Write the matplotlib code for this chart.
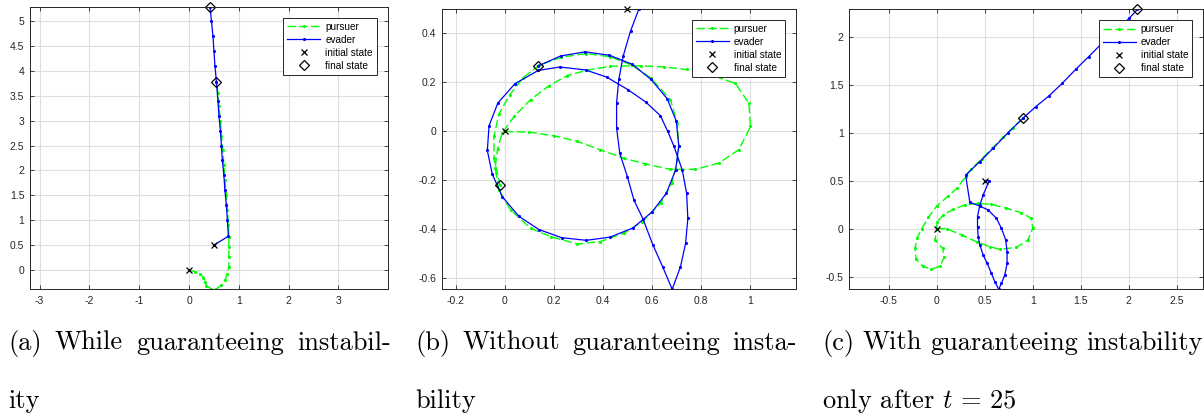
import matplotlib
matplotlib.use('Agg')
import matplotlib.pyplot as plt
from matplotlib.ticker import MultipleLocator, FuncFormatter

plt.rcParams['axes.unicode_minus'] = False
plt.rcParams['mathtext.fontset'] = 'cm'

# trajectories, one pair of lists per agent and scenario
PURSUER_A_X = [0.00, 0.12, 0.22, 0.29, 0.32, 0.35, 0.45, 0.55, 0.65, 0.72, 0.77, 0.80, 0.80,
               0.80, 0.80, 0.79, 0.77, 0.75, 0.72, 0.70, 0.68, 0.65, 0.63, 0.60, 0.58, 0.55]
PURSUER_A_Y = [0.00, -0.03, -0.07, -0.15, -0.23, -0.31, -0.38, -0.38, -0.30, -0.20, -0.07, 0.07, 0.27,
               0.47, 0.67, 0.90, 1.20, 1.50, 1.80, 2.10, 2.40, 2.70, 3.00, 3.30, 3.55, 3.78]
EVADER_A_X = [0.50, 0.79, 0.77, 0.75, 0.72, 0.70, 0.67, 0.65, 0.63, 0.60, 0.58, 0.55,
              0.52, 0.50, 0.48, 0.45, 0.42]
EVADER_A_Y = [0.50, 0.68, 1.00, 1.30, 1.60, 1.90, 2.20, 2.50, 2.80, 3.10, 3.40, 3.78,
              4.10, 4.40, 4.70, 5.00, 5.28]

PURSUER_B_X = [0.000, 0.098, 0.200, 0.295, 0.390, 0.486, 0.574, 0.676, 0.778, 0.873, 0.955, 1.003,
               0.996, 0.941, 0.846, 0.744, 0.649, 0.554, 0.431, 0.336, 0.255, 0.180, 0.105, 0.037,
               -0.011, -0.030, -0.040, -0.025, 0.023, 0.105, 0.187, 0.295, 0.390, 0.486, 0.561,
               0.636, 0.683, 0.704, 0.710, 0.704, 0.676, 0.595, 0.520, 0.430, 0.330, 0.230, 0.140,
               0.075, 0.020, -0.025, -0.045, -0.045, -0.020]
PURSUER_B_Y = [0.000, -0.003, -0.018, -0.041, -0.075, -0.110, -0.133, -0.155, -0.155, -0.130, -0.075, 0.020,
               0.116, 0.196, 0.229, 0.253, 0.263, 0.268, 0.266, 0.250, 0.228, 0.187, 0.130, 0.061,
               -0.007, -0.070, -0.150, -0.240, -0.321, -0.396, -0.430, -0.460, -0.450, -0.416, -0.369,
               -0.293, -0.211, -0.116, -0.061, 0.034, 0.130, 0.219, 0.270, 0.305, 0.318, 0.303, 0.270,
               0.220, 0.150, 0.070, -0.020, -0.110, -0.220]
EVADER_B_X = [0.500, 0.547, 0.513, 0.483, 0.465, 0.456, 0.456, 0.469, 0.500, 0.527, 0.563, 0.604,
              0.645, 0.683, 0.717, 0.738, 0.747, 0.742, 0.724, 0.690, 0.665, 0.635, 0.575, 0.503,
              0.415, 0.329, 0.224, 0.136, 0.041, -0.029, -0.065, -0.072, -0.052, -0.011, 0.057,
              0.139, 0.231, 0.332, 0.429, 0.522, 0.601, 0.659, 0.697, 0.710, 0.700, 0.663, 0.597,
              0.520, 0.427, 0.327, 0.227, 0.135]
EVADER_B_Y = [0.500, 0.500, 0.410, 0.308, 0.212, 0.116, 0.014, -0.089, -0.185, -0.281, -0.356, -0.463,
              -0.555, -0.645, -0.553, -0.457, -0.355, -0.252, -0.157, -0.060, 0.000, 0.064, 0.120, 0.170,
              0.222, 0.251, 0.263, 0.249, 0.195, 0.116, 0.023, -0.078, -0.174, -0.267, -0.347,
              -0.401, -0.434, -0.445, -0.432, -0.395, -0.329, -0.253, -0.158, -0.059, 0.041, 0.133, 0.212,
              0.274, 0.311, 0.325, 0.308, 0.267]

PURSUER_C_X = [0.000, 0.104, 0.259, 0.415, 0.553, 0.657, 0.830, 0.950, 1.000, 0.985, 0.882, 0.726,
               0.570, 0.432, 0.294, 0.172, 0.069, 0.006, -0.017, 0.062, 0.079, 0.035, -0.059,
               -0.145, -0.214, -0.225, -0.207, -0.155, -0.087, 0.000, 0.120, 0.210, 0.300,
               0.360, 0.470, 0.580, 0.690, 0.790, 0.898]
PURSUER_C_Y = [0.000, 0.000, -0.066, -0.135, -0.187, -0.215, -0.194, -0.118, 0.004, 0.108, 0.167, 0.212,
               0.254, 0.264, 0.247, 0.202, 0.143, 0.073, -0.118, -0.205, -0.299, -0.389, -0.424,
               -0.389, -0.319, -0.205, -0.100, 0.000, 0.120, 0.235, 0.340, 0.420, 0.540,
               0.620, 0.730, 0.840, 0.950, 1.050, 1.149]
EVADER_C_X = [0.500, 0.546, 0.484, 0.449, 0.425, 0.425, 0.432, 0.449, 0.484, 0.525, 0.570, 0.605,
              0.646, 0.674, 0.709, 0.733, 0.733, 0.719, 0.674, 0.622, 0.535, 0.449, 0.345, 0.301,
              0.449, 0.587, 0.743, 0.898, 1.030, 1.168, 1.307, 1.452, 1.583, 1.711, 1.860, 2.005, 2.091]
EVADER_C_Y = [0.500, 0.500, 0.351, 0.247, 0.125, 0.020, -0.083, -0.170, -0.274, -0.360, -0.465, -0.552,
              -0.631, -0.569, -0.482, -0.361, -0.240, -0.118, 0.004, 0.108, 0.195, 0.236, 0.275, 0.559,
              0.698, 0.837, 1.000, 1.150, 1.270, 1.382, 1.514, 1.664, 1.792, 1.921, 2.052, 2.192, 2.285]

TICK_STEPS = [(1.0, 0.5), (0.2, 0.2), (0.5, 0.5)]
CAPTIONS = [
    ("(a) While guaranteeing instabil-", "ity"),
    ("(b) Without guaranteeing insta-", "bility"),
    ("(c) With guaranteeing instability", "only after $t$ = 25"),
]

AX_POS = [[0.0249, 0.3053, 0.2973, 0.6779],
          [0.3669, 0.3046, 0.2943, 0.6738],
          [0.7054, 0.3046, 0.2940, 0.6730]]
CAP_X = [(8, 391), (415, 797), (822, 1203)]
DARK = (0.15, 0.15, 0.15)


def _equal_tight(ax, xs, ys):
    """Tight y limits, x range widened so one data unit is square on screen."""
    y0, y1 = min(ys), max(ys)
    bb = ax.get_position()
    w_px = bb.width * fig.get_figwidth()
    h_px = bb.height * fig.get_figheight()
    xr = (y1 - y0) * w_px / h_px
    xc = 0.5 * (min(xs) + max(xs))
    ax.set_xlim(xc - xr / 2, xc + xr / 2)
    ax.set_ylim(y0, y1)


def _fmt(v, _):
    v = round(v, 6)
    return f'{v:g}' if v != 0 else '0'


def _caption(fig, renderer, x0, x1, y, text, justify):
    kw = dict(family='cmr10', fontsize=19, va='baseline', ha='left')
    if not justify:
        fig.text(x0 / 1204, y, text, **kw)
        return
    words = text.split(' ')
    arts = [fig.text(0, y, w, **kw) for w in words]
    widths = [a.get_window_extent(renderer).width for a in arts]
    gap = (x1 - x0 - sum(widths)) / (len(words) - 1)
    x = x0
    for a, w in zip(arts, widths):
        a.set_x(x / 1204)
        x += w + gap


fig = plt.figure(figsize=(12.04, 4.16), dpi=100)

panels = [(PURSUER_A_X, PURSUER_A_Y, EVADER_A_X, EVADER_A_Y),
          (PURSUER_B_X, PURSUER_B_Y, EVADER_B_X, EVADER_B_Y),
          (PURSUER_C_X, PURSUER_C_Y, EVADER_C_X, EVADER_C_Y)]

for i, (px, py, ex, ey) in enumerate(panels):
    ax = fig.add_axes(AX_POS[i])
    ax.plot(px, py, color=(0, 1, 0), lw=1.0, ls=(0, (6, 2.5)), marker='.', ms=2.5,
            label='pursuer')
    ax.plot(ex, ey, color=(0, 0, 1), lw=0.9, ls='-', marker='.', ms=2.5, label='evader')
    ax.plot([px[0], ex[0]], [py[0], ey[0]], ls='none', marker='x', color='k', ms=4,
            mew=0.9, label='initial state', clip_on=False)
    ax.plot([px[-1], ex[-1]], [py[-1], ey[-1]], ls='none', marker='D', mfc='none', mec='k',
            ms=5, mew=0.9, label='final state', clip_on=False)

    _equal_tight(ax, px + ex, py + ey)
    sx, sy = TICK_STEPS[i]
    ax.xaxis.set_major_locator(MultipleLocator(sx))
    ax.yaxis.set_major_locator(MultipleLocator(sy))
    ax.xaxis.set_major_formatter(FuncFormatter(_fmt))
    ax.yaxis.set_major_formatter(FuncFormatter(_fmt))
    ax.set_axisbelow(True)
    ax.grid(True, color=(0.87, 0.87, 0.87), lw=0.8)
    for s in ax.spines.values():
        s.set_color(DARK)
        s.set_linewidth(0.7)
    ax.tick_params(direction='in', length=3, width=0.6, top=True, right=True,
                   labelsize=7.5, labelcolor=DARK, color=DARK)
    ax.tick_params(axis='x', pad=5)
    ax.tick_params(axis='y', pad=4)
    for lab in ax.get_xticklabels() + ax.get_yticklabels():
        lab.set_family('Liberation Sans')

    leg = ax.legend(loc='upper right', prop={'family': 'Liberation Sans', 'size': 7.2},
                    fancybox=False, framealpha=1, edgecolor=DARK, handlelength=3.3,
                    handletextpad=0.5, borderaxespad=1.1, labelspacing=0.3, borderpad=0.4)
    leg.get_frame().set_linewidth(0.7)

renderer = fig.canvas.get_renderer()
for (l1, l2), (x0, x1) in zip(CAPTIONS, CAP_X):
    _caption(fig, renderer, x0, x1, 1 - 350 / 416, l1, True)
    _caption(fig, renderer, x0, x1, 1 - 408 / 416, l2, False)

fig.savefig('out.png', dpi=100)
